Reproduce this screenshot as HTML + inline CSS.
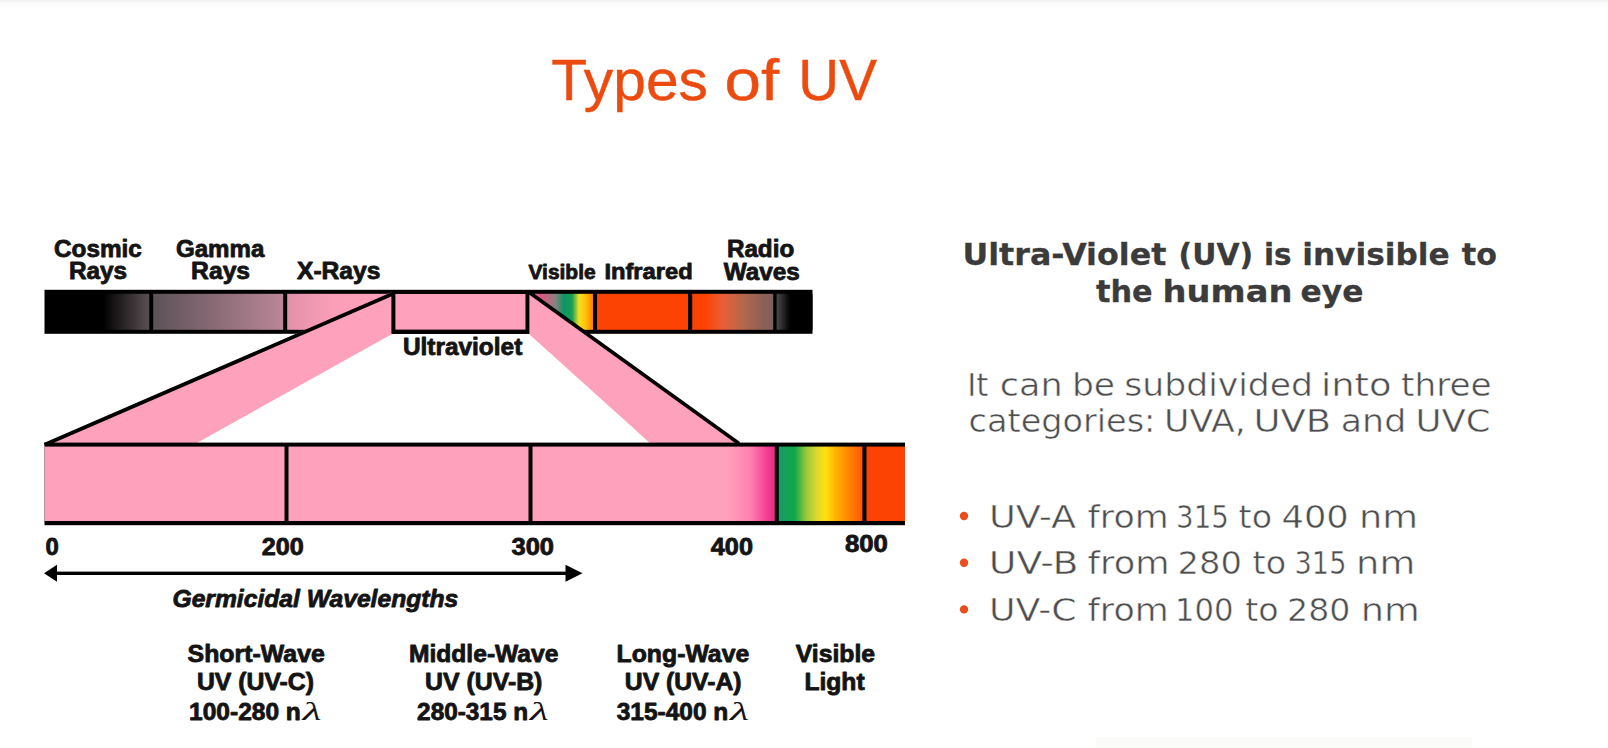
<!DOCTYPE html>
<html lang="en">
<head>
<meta charset="utf-8">
<title>Types of UV</title>
<style>
  html, body { margin: 0; padding: 0; background: #ffffff; }
  body { width: 1608px; height: 748px; overflow: hidden; position: relative; }
  svg { position: absolute; left: 0; top: 0; display: block; }
  .lab { font-family: "Liberation Sans", Arial, sans-serif; font-weight: bold; fill: #141414; stroke: #141414; stroke-width: 0.8px; stroke-linejoin: round; }
  .ttl { font-family: "Liberation Sans", Arial, sans-serif; fill: #ec4b10; stroke: #ec4b10; stroke-width: 0.4px; }
  .hd  { font-family: "DejaVu Sans", "Liberation Sans", sans-serif; font-weight: bold; fill: #3b3b3b; stroke: #3b3b3b; stroke-width: 0.3px; }
  .bd  { font-family: "DejaVu Sans", "Liberation Sans", sans-serif; fill: #4e4e4e; stroke: #ffffff; stroke-width: 0.5px; }
  .lam { font-family: "Liberation Serif", serif; font-weight: normal; font-style: italic; stroke: none; }
</style>
</head>
<body>
<svg width="1608" height="748" viewBox="0 0 1608 748">
  <defs>
    <linearGradient id="topfade" x1="0" y1="0" x2="0" y2="1">
      <stop offset="0" stop-color="#efefef"/>
      <stop offset="0.35" stop-color="#fbfbfb"/>
      <stop offset="1" stop-color="#ffffff"/>
    </linearGradient>
    <linearGradient id="gCosmic" x1="0" y1="0" x2="1" y2="0">
      <stop offset="0" stop-color="#000000"/>
      <stop offset="0.55" stop-color="#000000"/>
      <stop offset="1" stop-color="#5a5054"/>
    </linearGradient>
    <linearGradient id="gGamma" x1="0" y1="0" x2="1" y2="0">
      <stop offset="0" stop-color="#5c5257"/>
      <stop offset="1" stop-color="#bb8698"/>
    </linearGradient>
    <linearGradient id="gXray" x1="0" y1="0" x2="1" y2="0">
      <stop offset="0" stop-color="#e291aa"/>
      <stop offset="0.45" stop-color="#fb9fb9"/>
      <stop offset="1" stop-color="#fea1bc"/>
    </linearGradient>
    <linearGradient id="gVisTop" x1="0" y1="0" x2="1" y2="0">
      <stop offset="0" stop-color="#fea1bc"/>
      <stop offset="0.16" stop-color="#e4527e"/>
      <stop offset="0.40" stop-color="#8e8182"/>
      <stop offset="0.54" stop-color="#0c9466"/>
      <stop offset="0.67" stop-color="#18a056"/>
      <stop offset="0.78" stop-color="#f4e020"/>
      <stop offset="0.88" stop-color="#ffc208"/>
      <stop offset="1" stop-color="#ff7e00"/>
    </linearGradient>
    <linearGradient id="gRadio" x1="0" y1="0" x2="1" y2="0">
      <stop offset="0" stop-color="#fd4304"/>
      <stop offset="0.17" stop-color="#fd4304"/>
      <stop offset="0.37" stop-color="#ea5e38"/>
      <stop offset="0.63" stop-color="#b4684a"/>
      <stop offset="0.88" stop-color="#8a6058"/>
      <stop offset="1" stop-color="#80605c"/>
    </linearGradient>
    <linearGradient id="gRadio2" x1="0" y1="0" x2="1" y2="0">
      <stop offset="0" stop-color="#4c484a"/>
      <stop offset="0.38" stop-color="#000000"/>
      <stop offset="1" stop-color="#000000"/>
    </linearGradient>
    <linearGradient id="gUVA" x1="0" y1="0" x2="1" y2="0">
      <stop offset="0" stop-color="#fea1bc"/>
      <stop offset="0.80" stop-color="#fea1bc"/>
      <stop offset="0.90" stop-color="#ff80b0"/>
      <stop offset="0.97" stop-color="#f23c92"/>
      <stop offset="1" stop-color="#e82a86"/>
    </linearGradient>
    <linearGradient id="gVisBot" x1="0" y1="0" x2="1" y2="0">
      <stop offset="0" stop-color="#1a9a66"/>
      <stop offset="0.19" stop-color="#10a84a"/>
      <stop offset="0.33" stop-color="#98c83c"/>
      <stop offset="0.45" stop-color="#dcd830"/>
      <stop offset="0.56" stop-color="#ffe010"/>
      <stop offset="0.68" stop-color="#ffb400"/>
      <stop offset="0.80" stop-color="#ff9000"/>
      <stop offset="1" stop-color="#ff5800"/>
    </linearGradient>
  </defs>

  <!-- page background -->
  <rect x="0" y="0" width="1608" height="748" fill="#ffffff"/>
  <rect x="0" y="0" width="1608" height="9" fill="url(#topfade)"/>

  <rect id="wm" x="1096" y="737" width="376" height="11" fill="#fbfbfa"/>

  <!-- ===== top spectrum bar ===== -->
  <g id="topbar">
    <rect x="44.5" y="289.8" width="768" height="44" fill="#000"/>
    <rect x="46" y="293.8" width="103.2" height="36" fill="url(#gCosmic)"/>
    <rect x="153.2" y="293.8" width="130" height="36" fill="url(#gGamma)"/>
    <rect x="287.2" y="293.8" width="105" height="36" fill="url(#gXray)"/>
    <rect x="395.4" y="293.8" width="130.2" height="35.8" fill="#fea1bc"/>
    <rect x="529.6" y="293.8" width="63.4" height="36" fill="url(#gVisTop)"/>
    <rect x="597" y="293.8" width="91" height="36" fill="#fd4304"/>
    <rect x="692.2" y="293.8" width="81" height="36" fill="url(#gRadio)"/>
    <rect x="776.6" y="293.8" width="35.9" height="36" fill="url(#gRadio2)"/>
  </g>

  <!-- ===== diagonal bands ===== -->
  <g id="bands">
    <polygon points="392,292 392,334 195,444 44,444" fill="#fea1bc"/>
    <line x1="394" y1="293.3" x2="44.5" y2="444.7" stroke="#000" stroke-width="3.8"/>
    <polygon points="529,292 529,334 651,444 738,444" fill="#fea1bc"/>
    <line x1="528" y1="291.5" x2="739" y2="443.5" stroke="#000" stroke-width="3.6"/>
    <!-- UV box outline redrawn above the bands -->
    <rect x="393.2" y="292" width="134.4" height="40" fill="none" stroke="#000" stroke-width="3.6"/>
  </g>

  <!-- ===== bottom (expanded) bar ===== -->
  <g id="botbar">
    <rect x="44.5" y="442.6" width="860.5" height="82.6" fill="#000"/>
    <rect x="44.5" y="446.6" width="240" height="74.4" fill="#fea1bc"/>
    <rect x="288.5" y="446.6" width="240" height="74.4" fill="#fea1bc"/>
    <rect x="532.5" y="446.6" width="242.3" height="74.4" fill="url(#gUVA)"/>
    <rect x="778.8" y="446.6" width="83.6" height="74.4" fill="url(#gVisBot)"/>
    <rect x="866.5" y="446.6" width="38.5" height="74.4" fill="#fd4304"/>
  </g>

  <!-- ===== arrow ===== -->
  <g id="arrow" fill="#000">
    <rect x="52" y="571.6" width="520" height="3.4"/>
    <polygon points="44,573.3 57,564.8 57,581.8"/>
    <polygon points="582.5,573.3 565.5,564.8 565.5,581.8"/>
  </g>

  <!-- ===== diagram labels ===== -->
  <g class="lab">
    <text x="54.0" y="256.5" font-size="23" textLength="87.8" lengthAdjust="spacingAndGlyphs">Cosmic</text>
    <text x="68.9" y="279" font-size="23" textLength="58.2" lengthAdjust="spacingAndGlyphs">Rays</text>
    <text x="176.0" y="256.5" font-size="23" textLength="88.3" lengthAdjust="spacingAndGlyphs">Gamma</text>
    <text x="191.1" y="279" font-size="23" textLength="59.0" lengthAdjust="spacingAndGlyphs">Rays</text>
    <text x="297.0" y="279" font-size="23" textLength="83.4" lengthAdjust="spacingAndGlyphs">X-Rays</text>
    <text x="528.5" y="279" font-size="20" textLength="67.1" lengthAdjust="spacingAndGlyphs">Visible</text>
    <text x="604.4" y="279" font-size="22" textLength="88.3" lengthAdjust="spacingAndGlyphs">Infrared</text>
    <text x="726.9" y="257" font-size="23" textLength="67.3" lengthAdjust="spacingAndGlyphs">Radio</text>
    <text x="723.7" y="280.2" font-size="23" textLength="76.1" lengthAdjust="spacingAndGlyphs">Waves</text>
    <text x="402.9" y="354.5" font-size="23" textLength="119.4" lengthAdjust="spacingAndGlyphs">Ultraviolet</text>
    <text x="45.5" y="554.6" font-size="23" textLength="13.3" lengthAdjust="spacingAndGlyphs">0</text>
    <text x="261.8" y="554.6" font-size="23" textLength="42.0" lengthAdjust="spacingAndGlyphs">200</text>
    <text x="511.5" y="554.6" font-size="23" textLength="42.5" lengthAdjust="spacingAndGlyphs">300</text>
    <text x="710.8" y="554.6" font-size="23" textLength="42.2" lengthAdjust="spacingAndGlyphs">400</text>
    <text x="845.0" y="552.4" font-size="23" textLength="42.9" lengthAdjust="spacingAndGlyphs">800</text>
    <text x="172.5" y="606.8" font-size="23" font-style="italic" textLength="285.7" lengthAdjust="spacingAndGlyphs">Germicidal Wavelengths</text>
    <text x="187.6" y="661.5" font-size="23" textLength="137.2" lengthAdjust="spacingAndGlyphs">Short-Wave</text>
    <text x="196.9" y="690.2" font-size="23" textLength="117.1" lengthAdjust="spacingAndGlyphs">UV (UV-C)</text>
    <text x="409.0" y="661.5" font-size="23" textLength="149.4" lengthAdjust="spacingAndGlyphs">Middle-Wave</text>
    <text x="425.0" y="690.2" font-size="23" textLength="117.4" lengthAdjust="spacingAndGlyphs">UV (UV-B)</text>
    <text x="616.6" y="661.8" font-size="23" textLength="132.6" lengthAdjust="spacingAndGlyphs">Long-Wave</text>
    <text x="624.8" y="690.2" font-size="23" textLength="116.7" lengthAdjust="spacingAndGlyphs">UV (UV-A)</text>
    <text x="795.8" y="661.8" font-size="23" textLength="79.3" lengthAdjust="spacingAndGlyphs">Visible</text>
    <text x="804.4" y="690" font-size="23" textLength="60.2" lengthAdjust="spacingAndGlyphs">Light</text>
    <text x="189.1" y="720" font-size="23" textLength="111.7" lengthAdjust="spacingAndGlyphs">100-280 n</text>
    <text x="417.1" y="720" font-size="23" textLength="111.0" lengthAdjust="spacingAndGlyphs">280-315 n</text>
    <text x="616.7" y="719.6" font-size="23" textLength="111.6" lengthAdjust="spacingAndGlyphs">315-400 n</text>
    <text x="302.4" y="720.3" font-size="24.5" class="lam" textLength="19.0" lengthAdjust="spacingAndGlyphs">λ</text>
    <text x="529.7" y="720.3" font-size="24.5" class="lam" textLength="19.0" lengthAdjust="spacingAndGlyphs">λ</text>
    <text x="729.9" y="719.9" font-size="24.5" class="lam" textLength="19.0" lengthAdjust="spacingAndGlyphs">λ</text>
  </g>

  <!-- ===== title ===== -->
  <g class="ttl">
    <text x="551.2" y="100" font-size="56.8" textLength="156.8" lengthAdjust="spacingAndGlyphs">Types</text>
    <text x="724.5" y="100" font-size="56.8" textLength="54.7" lengthAdjust="spacingAndGlyphs">of</text>
    <text x="798.3" y="100" font-size="56.8" textLength="78.6" lengthAdjust="spacingAndGlyphs">UV</text>
  </g>

  <!-- ===== right-hand copy ===== -->
  <g class="hd">
    <text x="962.5" y="264.5" font-size="30.8" textLength="203.8" lengthAdjust="spacingAndGlyphs">Ultra-Violet</text>
    <text x="1178.6" y="264.5" font-size="30.8" textLength="74.5" lengthAdjust="spacingAndGlyphs">(UV)</text>
    <text x="1264.0" y="264.5" font-size="30.8" textLength="27.6" lengthAdjust="spacingAndGlyphs">is</text>
    <text x="1302.2" y="264.5" font-size="30.8" textLength="147.5" lengthAdjust="spacingAndGlyphs">invisible</text>
    <text x="1461.8" y="264.5" font-size="30.8" textLength="35.1" lengthAdjust="spacingAndGlyphs">to</text>
    <text x="1096.0" y="301.7" font-size="30.8" textLength="56.7" lengthAdjust="spacingAndGlyphs">the</text>
    <text x="1162.6" y="301.7" font-size="30.8" textLength="129.8" lengthAdjust="spacingAndGlyphs">human</text>
    <text x="1300.6" y="301.7" font-size="30.8" textLength="62.9" lengthAdjust="spacingAndGlyphs">eye</text>
  </g>
  <g class="bd">
    <text x="967.2" y="396" font-size="32" textLength="21.2" lengthAdjust="spacingAndGlyphs">It</text>
    <text x="999.8" y="396" font-size="32" textLength="62.8" lengthAdjust="spacingAndGlyphs">can</text>
    <text x="1071.9" y="396" font-size="32" textLength="43.1" lengthAdjust="spacingAndGlyphs">be</text>
    <text x="1124.3" y="396" font-size="32" textLength="188.7" lengthAdjust="spacingAndGlyphs">subdivided</text>
    <text x="1321.0" y="396" font-size="32" textLength="70.6" lengthAdjust="spacingAndGlyphs">into</text>
    <text x="1401.1" y="396" font-size="32" textLength="90.6" lengthAdjust="spacingAndGlyphs">three</text>
    <text x="968.6" y="431.7" font-size="32" textLength="186.8" lengthAdjust="spacingAndGlyphs">categories:</text>
    <text x="1164.1" y="431.7" font-size="32" textLength="81.7" lengthAdjust="spacingAndGlyphs">UVA,</text>
    <text x="1253.4" y="431.7" font-size="32" textLength="77.7" lengthAdjust="spacingAndGlyphs">UVB</text>
    <text x="1340.8" y="431.7" font-size="32" textLength="65.4" lengthAdjust="spacingAndGlyphs">and</text>
    <text x="1415.4" y="431.7" font-size="32" textLength="75.1" lengthAdjust="spacingAndGlyphs">UVC</text>
    <text x="988.9" y="527.6" font-size="32" textLength="87.3" lengthAdjust="spacingAndGlyphs">UV-A</text>
    <text x="1087.6" y="527.6" font-size="32" textLength="81.0" lengthAdjust="spacingAndGlyphs">from</text>
    <text x="1176.1" y="527.6" font-size="32" textLength="52.6" lengthAdjust="spacingAndGlyphs">315</text>
    <text x="1238.6" y="527.6" font-size="32" textLength="33.4" lengthAdjust="spacingAndGlyphs">to</text>
    <text x="1281.5" y="527.6" font-size="32" textLength="67.2" lengthAdjust="spacingAndGlyphs">400</text>
    <text x="1358.9" y="527.6" font-size="32" textLength="59.1" lengthAdjust="spacingAndGlyphs">nm</text>
    <text x="988.8" y="574.3" font-size="32" textLength="89.8" lengthAdjust="spacingAndGlyphs">UV-B</text>
    <text x="1087.6" y="574.3" font-size="32" textLength="81.8" lengthAdjust="spacingAndGlyphs">from</text>
    <text x="1177.5" y="574.3" font-size="32" textLength="64.4" lengthAdjust="spacingAndGlyphs">280</text>
    <text x="1252.6" y="574.3" font-size="32" textLength="33.5" lengthAdjust="spacingAndGlyphs">to</text>
    <text x="1294.6" y="574.3" font-size="32" textLength="51.8" lengthAdjust="spacingAndGlyphs">315</text>
    <text x="1356.1" y="574.3" font-size="32" textLength="59.1" lengthAdjust="spacingAndGlyphs">nm</text>
    <text x="988.9" y="620.9" font-size="32" textLength="87.8" lengthAdjust="spacingAndGlyphs">UV-C</text>
    <text x="1087.6" y="620.9" font-size="32" textLength="81.0" lengthAdjust="spacingAndGlyphs">from</text>
    <text x="1174.9" y="620.9" font-size="32" textLength="58.5" lengthAdjust="spacingAndGlyphs">100</text>
    <text x="1245.2" y="620.9" font-size="32" textLength="33.4" lengthAdjust="spacingAndGlyphs">to</text>
    <text x="1287.0" y="620.9" font-size="32" textLength="63.4" lengthAdjust="spacingAndGlyphs">280</text>
    <text x="1360.8" y="620.9" font-size="32" textLength="59.0" lengthAdjust="spacingAndGlyphs">nm</text>
  </g>
  <g fill="#ea4e1c">
    <circle cx="964" cy="516" r="4.2"/>
    <circle cx="964" cy="562.7" r="4.2"/>
    <circle cx="964" cy="609.4" r="4.2"/>
  </g>
</svg>
</body>
</html>
